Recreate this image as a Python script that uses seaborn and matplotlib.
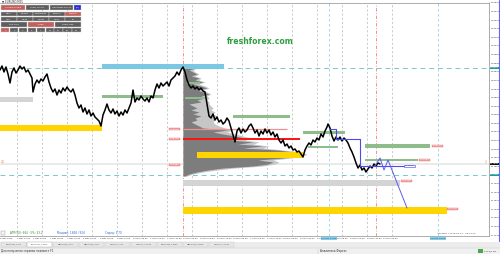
import numpy as np
import pandas as pd
import matplotlib
matplotlib.use("Agg")
import matplotlib.pyplot as plt
import seaborn as sns
from matplotlib.patches import Rectangle

sns.set_theme(style="white")
plt.rcParams['font.family'] = ['DejaVu Sans']

# ---------------- data ----------------
bar_idx = [0, 2, 4, 6, 8, 10, 12, 14, 16, 18, 20, 22, 24, 26, 28, 30, 32, 33, 35, 37, 39, 41, 43, 45, 47,
           49, 51, 53, 55, 57, 59, 61, 63, 65, 67, 69, 71, 73, 75, 77, 79, 81, 83, 85, 87, 89, 91, 93, 95,
           97, 99, 101, 103, 105, 107, 109, 111, 113, 115, 117, 119, 121, 123, 125, 127, 129, 131, 133,
           135, 137, 139, 141, 143, 145, 147, 149, 151, 153, 155, 157, 159, 161, 163, 165, 167, 169, 171,
           173, 175, 177, 179, 181, 183, 185, 187, 189, 191, 193, 195, 197, 199, 201, 203, 205, 207, 209,
           211, 213, 215, 217, 219, 221, 223, 225, 227, 229, 231, 233, 235, 237, 239, 241, 243, 245, 247,
           249, 251, 253, 255, 257, 259, 261, 263, 265, 267, 269, 271, 273, 275, 277, 279, 281, 283, 285,
           287, 289, 291, 293, 295, 297, 299, 301, 303, 305, 307, 309, 311, 313, 315, 317, 319, 321, 323,
           325, 327, 328, 330, 332, 334, 336, 338, 340, 342, 344, 346, 348, 350, 352, 354, 356, 358, 360,
           362, 364, 366, 368, 370, 372, 374, 376, 378, 380]
close_price = [1.1883, 1.1887, 1.1881, 1.1886, 1.1879, 1.1870, 1.1881, 1.1885, 1.1880, 1.1883, 1.1887,
               1.1884, 1.1886, 1.1881, 1.1883, 1.1879, 1.1875, 1.1861, 1.1869, 1.1873, 1.1870, 1.1874,
               1.1872, 1.1876, 1.1879, 1.1871, 1.1865, 1.1861, 1.1864, 1.1858, 1.1863, 1.1860, 1.1865,
               1.1862, 1.1866, 1.1863, 1.1861, 1.1864, 1.1858, 1.1850, 1.1845, 1.1848, 1.1841, 1.1845,
               1.1839, 1.1843, 1.1837, 1.1840, 1.1836, 1.1834, 1.1832, 1.1827, 1.1838, 1.1843, 1.1849,
               1.1843, 1.1840, 1.1844, 1.1839, 1.1842, 1.1837, 1.1841, 1.1838, 1.1843, 1.1840, 1.1845,
               1.1850, 1.1863, 1.1851, 1.1855, 1.1853, 1.1857, 1.1854, 1.1852, 1.1855, 1.1851, 1.1857,
               1.1855, 1.1863, 1.1869, 1.1865, 1.1870, 1.1867, 1.1869, 1.1871, 1.1867, 1.1873, 1.1875,
               1.1877, 1.1881, 1.1878, 1.1883, 1.1886, 1.1881, 1.1873, 1.1868, 1.1865, 1.1867, 1.1864,
               1.1866, 1.1863, 1.1865, 1.1862, 1.1861, 1.1849, 1.1837, 1.1835, 1.1839, 1.1833, 1.1836,
               1.1831, 1.1833, 1.1829, 1.1831, 1.1835, 1.1832, 1.1825, 1.1818, 1.1811, 1.1822, 1.1825,
               1.1820, 1.1824, 1.1821, 1.1823, 1.1827, 1.1829, 1.1825, 1.1820, 1.1823, 1.1817, 1.1822,
               1.1819, 1.1824, 1.1820, 1.1823, 1.1818, 1.1821, 1.1816, 1.1819, 1.1813, 1.1810, 1.1813,
               1.1807, 1.1809, 1.1805, 1.1807, 1.1803, 1.1804, 1.1801, 1.1802, 1.1799, 1.1796, 1.1803,
               1.1807, 1.1810, 1.1808, 1.1813, 1.1811, 1.1815, 1.1813, 1.1819, 1.1816, 1.1822, 1.1826,
               1.1829, 1.1825, 1.1817, 1.1812, 1.1816, 1.1813, 1.1816, 1.1812, 1.1815, 1.1813, 1.1810,
               1.1805, 1.1801, 1.1796, 1.1790, 1.1785, 1.1788, 1.1783, 1.1785, 1.1781, 1.1784, 1.1787,
               1.1785, 1.1789, 1.1787, 1.1790, 1.1789]

# forecast paths
step_x = [330, 336, 336, 360, 360, 405]
step_price = [1.1824, 1.1824, 1.1814, 1.1814, 1.1787, 1.1787]
zig_x = [375, 380, 384, 388, 407]
zig_price = [1.1787, 1.1795, 1.1783, 1.1793, 1.1745]

# zones: start bar, end bar, upper price, lower price, kind
zone_x0 = [102, 0, 0, 102, 187, 185, 233, 303, 308, 365, 365, 197, 183, 183]
zone_x1 = [224, 33, 102, 163, 200, 205, 290, 345, 338, 430, 418, 303, 400, 447]
zone_hi = [1.1889, 1.1856, 1.1828, 1.1858, 1.1871, 1.1856, 1.1838, 1.1822, 1.1807, 1.1809, 1.1794, 1.1801, 1.1773, 1.1746]
zone_lo = [1.1884, 1.1851, 1.1822, 1.1855, 1.1869, 1.1854, 1.1835, 1.1819, 1.1805, 1.1805, 1.1792, 1.1795, 1.1767, 1.1739]
zone_kind = ["blue", "gray", "yellow", "green", "green", "green", "green", "green", "green", "green",
             "green", "yellow", "gray", "yellow"]

# level lines
red_level = 1.1814
red_level_end = 300
pink_level = 1.1824
pink_level_end = 287
teal_levels = [1.1885, 1.1778]
bid_price = 1.1789

# labels of levels (bar, price, text, style)
lab_x = [170, 170, 170, 433, 420, 402, 448, 405]
lab_p = [1.1824, 1.1814, 1.1788, 1.1807, 1.1793, 1.1772, 1.1744, 1.1787]
lab_t = ["1.18240", "1.18140", "1.17880", "1.18070", "1.17930", "1.17720", "1.17440", "1.17870"]
lab_s = ["red", "red", "red", "red", "red", "red", "red", "blue"]

# volume profile anchored at bar 183
profile_start = 183
profile_price = [round(1.1889 - 0.0002 * i, 4) for i in range(57)]
profile_light = [4, 10, 14, 10, 12, 16, 12, 18, 16, 22, 16, 22, 26, 20, 24, 28, 24, 26, 24, 26, 26, 28, 30,
                 28, 32, 30, 34, 30, 32, 30, 32, 36, 42, 50, 44, 52, 60, 68, 62, 76, 70, 86, 80, 100, 118,
                 124, 120, 108, 90, 96, 92, 80, 52, 34, 20, 10, 4]
profile_dark = [3, 8, 12, 6, 10, 14, 8, 16, 12, 20, 10, 18, 24, 14, 20, 26, 18, 22, 14, 18, 6, 10, 14, 8,
                16, 10, 18, 12, 14, 8, 12, 16, 20, 45, 30, 40, 52, 62, 48, 70, 55, 80, 60, 95, 110, 120,
                115, 100, 75, 90, 85, 70, 40, 25, 14, 6, 2]

# grid / session lines
day_lines = [17, 42, 67, 92, 117, 142, 167, 192, 217, 242, 267, 292, 317, 342, 367, 392]
red_vlines = [183, 376]
blue_vlines = [329, 438]

price_ticks = [1.19500, 1.19414, 1.19328, 1.19242, 1.19156, 1.19070, 1.18984, 1.18898, 1.18812,
               1.18726, 1.18640, 1.18554, 1.18468, 1.18382, 1.18296, 1.18210, 1.18124, 1.18038,
               1.17952, 1.17866, 1.17780, 1.17694, 1.17608, 1.17522, 1.17436, 1.17350, 1.17264, 1.17178]
time_ticks = [0, 17, 33, 50, 67, 83, 100, 117, 133, 150, 167, 183, 200, 217, 233, 250, 267, 283, 300,
              317, 333, 350, 367, 383]
time_labels = ["3 May 2018", "3 May 16:00", "4 May 08:00", "7 May 00:00", "7 May 16:00", "8 May 08:00",
               "9 May 00:00", "9 May 16:00", "10 May 08:00", "11 May 00:00", "11 May 16:00",
               "14 May 08:00", "15 May 00:00", "15 May 16:00", "16 May 08:00", "17 May 00:00",
               "17 May 16:00", "18 May 08:00", "21 May 00:00", "21 May 16:00", "22 May 08:00",
               "23 May 00:00", "23 May 16:00", "24 May 08:00"]

# ---------------- figure ----------------
fig = plt.figure(figsize=(5, 2.54), dpi=100)
fig.patch.set_facecolor("white")
ax = fig.add_axes([0, 18 / 254, 489 / 500, 233 / 254])
ax.set_facecolor("white")
ax.set_xlim(0, 489)
ax.set_ylim(1.1717, 1.1950)

for x in day_lines:
    ax.axvline(x, color="#b4b4b4", lw=0.5, ls=(0, (3, 3)), zorder=1)
for x in red_vlines:
    ax.axvline(x, color="#f08080", lw=0.6, ls=(0, (4, 2, 1, 2)), zorder=1)
for x in blue_vlines:
    ax.axvline(x, color="#8fd4e8", lw=0.6, ls=(0, (3, 3)), zorder=1)

ax.axhline(bid_price, color="#e6e6e6", lw=1.2, zorder=1)
for p in teal_levels:
    ax.axhline(p, color="#7cc6c6", lw=0.7, ls=(0, (5, 4)), zorder=2)

# volume profile
pp = np.array(profile_price)
ax.fill_betweenx(pp, profile_start, profile_start + np.array(profile_light), color="#c6c6c6", lw=0, zorder=2)
ax.fill_betweenx(pp, profile_start, profile_start + np.array(profile_dark), color="#7d7d7d", lw=0, zorder=2)

zone_colors = {"blue": "#7cc8e4", "gray": "#d4d4d4", "yellow": "#ffd500", "green": "#8fbc8b"}
for x0, x1, hi, lo, k in zip(zone_x0, zone_x1, zone_hi, zone_lo, zone_kind):
    ax.add_patch(Rectangle((x0, lo), x1 - x0, hi - lo, facecolor=zone_colors[k], edgecolor="none", zorder=3))

ax.hlines(pink_level, profile_start, pink_level_end, color="#f09090", lw=0.9, zorder=4)
ax.hlines(red_level, profile_start, red_level_end, color="#ff1010", lw=1.4, zorder=4)

df = pd.DataFrame({"bar": bar_idx, "price": close_price})
sns.lineplot(data=df, x="bar", y="price", ax=ax, color="black", lw=1.1, sort=False,
             estimator=None, errorbar=None, zorder=5)
sns.lineplot(x=step_x, y=step_price, ax=ax, color="#4a4af0", lw=0.8, sort=False,
             estimator=None, errorbar=None, zorder=6)
sns.lineplot(x=zig_x, y=zig_price, ax=ax, color="#5a5af0", lw=0.7, sort=False,
             estimator=None, errorbar=None, zorder=6)

for x, p, t, s in zip(lab_x, lab_p, lab_t, lab_s):
    if s == "red":
        ax.text(x, p, t, fontsize=1.7, color="white", va="center", ha="left", zorder=7,
                bbox=dict(boxstyle="square,pad=0.3", fc="#f4a0a0", ec="#e07878", lw=0.3))
    else:
        ax.text(x, p, t, fontsize=1.7, color="#3030d0", va="center", ha="left", zorder=7,
                bbox=dict(boxstyle="square,pad=0.3", fc="white", ec="#4040e0", lw=0.4))

ax.text(1, 1.1791, "24", fontsize=2.2, color="#f08040", va="center", ha="left")
ax.text(485, 1.1791, "2", fontsize=2.2, color="#f08040", va="center", ha="left")

ax.text(260, 1.1911, "freshforex.com", fontsize=5.6, fontweight="bold", color="#2f9e3f",
        ha="center", va="center", zorder=8)

# axes styling
ax.yaxis.tick_right()
ax.set_yticks(price_ticks)
ax.set_yticklabels([f"{v:.5f}" for v in price_ticks])
ax.set_xticks(time_ticks)
ax.set_xticklabels(time_labels, ha="left")
ax.tick_params(axis="y", length=1.0, width=0.3, pad=0.4, labelsize=1.6, colors="#333333")
ax.tick_params(axis="x", length=1.0, width=0.3, pad=0.5, labelsize=1.55, colors="#333333")
ax.set_xlabel("")
ax.set_ylabel("")
for s in ["top", "right", "bottom"]:
    ax.spines[s].set_color("#a0a0a0")
    ax.spines[s].set_linewidth(0.6)
ax.spines["left"].set_visible(False)

# price boxes on the scale
for p, t, fc in [(1.1885, "1.18850", "#1a9a9a"), (1.1789, "1.17890", "#111111"), (1.1778, "1.17780", "#1a9a9a")]:
    ax.text(1.002, p, t, transform=ax.get_yaxis_transform(), fontsize=1.6, color="white", va="center",
            ha="left", zorder=9, clip_on=False,
            bbox=dict(boxstyle="square,pad=0.2", fc=fc, ec="none"))

# ---------------- terminal chrome (pixel overlay) ----------------
ui = fig.add_axes([0, 0, 1, 1], zorder=5)
ui.set_xlim(0, 500)
ui.set_ylim(254, 0)
ui.axis("off")
ui.patch.set_alpha(0)

ui.text(1.5, 1.6, "▼ EURUSD,M15", fontsize=2.0, color="#333333", va="center", ha="left")

GRAY, RED, BLUE = "#5e5e5e", "#c2605e", "#2a2ad0"


def button(x0, x1, y0, y1, text, fc):
    ui.add_patch(Rectangle((x0, y0), x1 - x0, y1 - y0, fc=fc, ec="#d0d0d0", lw=0.3))
    ui.text((x0 + x1) / 2, (y0 + y1) / 2, text, fontsize=1.6, color="white", ha="center", va="center")


button(1, 25, 4.5, 9.5, "Volume Profile", RED)
button(26, 49, 4.5, 9.5, "Order Profile", GRAY)
button(50, 73, 4.5, 9.5, "Heartbeat Profile", GRAY)
button(74, 81, 4.5, 9.5, "[O]", BLUE)
row2 = ["Daily", "Weekly", "Composite", "Session", "Custom"]
row3 = ["Hour", "Week", "Month", "Year", "Fill"]
for i, (a, b) in enumerate(zip(row2, row3)):
    x0 = 1 + i * 16
    button(x0, x0 + 15.5, 11.5, 16, a, RED if a == "Custom" else GRAY)
    button(x0, x0 + 15.5, 16.8, 21.3, b, GRAY)
for i, (t, c) in enumerate([("Left Side", GRAY), ("Origin", RED), ("Right Side", GRAY)]):
    x0 = 1 + i * 27
    button(x0, x0 + 26, 22.3, 27, t, c)
for i, t in enumerate(["1", "2", "3", "5", "7", "10", "15", "20", "30"]):
    x0 = 1 + i * 8.9
    button(x0, x0 + 8.4, 27.8, 32.3, t, RED if i == 0 else GRAY)

# info line
ui.add_patch(Rectangle((1, 231), 4, 4, fc="#f4f4f4", ec="#999999", lw=0.3))
ui.text(10, 233, "ATR(50): 664 · 5%: 33.2", fontsize=2.0, color="#2a8a2a", va="center", ha="left")
ui.text(57, 233, "Медиан: 1848 / 924", fontsize=2.0, color="#1e6fd9", va="center", ha="left")
ui.text(105, 233, "Спред: 5.70", fontsize=2.0, color="#1e6fd9", va="center", ha="left")
ui.text(437, 233, "Четверг / 2018.05.24 - 00:05:21", fontsize=1.7, color="#444444", va="center", ha="left")

# highlighted time marks
for x, t in [(329, "22 May 14:00"), (438, "24 May 18:00")]:
    ui.text(x, 238.6, t, fontsize=1.6, color="#1f3f6f", ha="center", va="center", zorder=10,
            bbox=dict(boxstyle="square,pad=0.3", fc="#7fd0ef", ec="none"))

# tabs
ui.add_patch(Rectangle((0, 241.5), 500, 6.5, fc="#ececec", ec="none"))
tabs = ["EURUSD_c,H1", "EURUSD_c,M15", "GBPUSD_c,H1", "GBPUSD_c,H4", "USDJPY_c,H1", "USDJPY_c,M15",
        "EURUSD_c,M30", "GBPUSD_c,M30", "USDJPY_c,M30"]
for i, t in enumerate(tabs):
    x0 = 1 + i * 26
    active = i == 1
    ui.add_patch(Rectangle((x0, 241.8), 25, 5.6, fc="white" if active else "#e6e6e6",
                           ec="#9a9a9a" if active else "#c8c8c8", lw=0.3))
    ui.text(x0 + 12.5, 244.6, t, fontsize=1.6, color="#555555", ha="center", va="center")

# status bar
ui.add_patch(Rectangle((0, 248), 500, 6, fc="#f0f0f0", ec="none"))
ui.plot([0, 500], [248, 248], color="#c8c8c8", lw=0.3)
ui.text(1, 251.2, "Для получения справки нажмите F1", fontsize=2.0, color="#333333", ha="left", va="center")
ui.plot([318, 318], [248.5, 253.5], color="#c0c0c0", lw=0.3)
ui.text(320, 251.2, "Аналитика Форекс", fontsize=2.0, color="#333333", ha="left", va="center")
ui.add_patch(Rectangle((478, 249.2), 5, 3.8, fc="#4aa84a", ec="none"))
ui.text(484, 251.2, "5723/1 kb", fontsize=1.7, color="#333333", ha="left", va="center")

ui.plot([499.3, 499.3], [0, 241], color="#6464ff", lw=0.8)

fig.savefig("out.png", dpi=100)
